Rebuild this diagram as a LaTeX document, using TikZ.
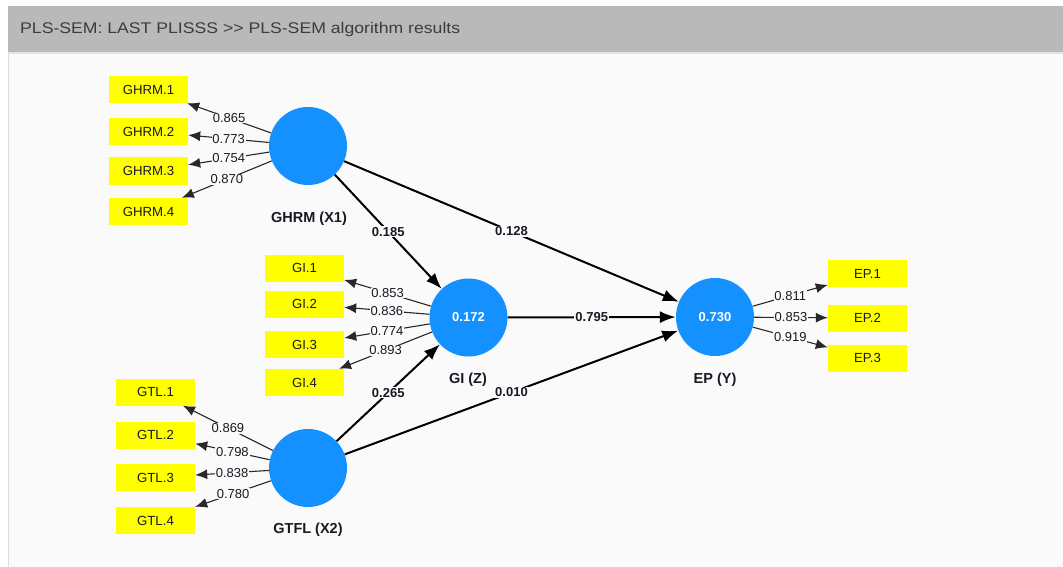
\documentclass[tikz,border=0pt]{standalone}
\usepackage{fontspec}
\setmainfont{Liberation Sans}
\usetikzlibrary{arrows.meta}
\definecolor{lvblue}{RGB}{21,145,255}
\definecolor{indyellow}{RGB}{255,255,0}
\definecolor{panelbg}{RGB}{250,250,250}
\definecolor{headgray}{RGB}{185,185,185}
\definecolor{headline}{RGB}{226,226,226}
\definecolor{bordergray}{RGB}{220,220,220}
\definecolor{headtxt}{RGB}{60,60,60}
\definecolor{txtdark}{RGB}{25,25,35}
\definecolor{loadline}{RGB}{40,40,40}
\tikzset{
  latent/.style={circle, fill=lvblue, minimum size=78pt, inner sep=0pt, text=white,
    font=\fontsize{13}{15}\selectfont\bfseries},
  indic/.style={rectangle, fill=indyellow, minimum width=79pt, minimum height=27pt, inner sep=0pt,
    text=txtdark, font=\fontsize{13.2}{15}\selectfont},
  lvname/.style={inner sep=0pt, text=txtdark, font=\fontsize{14.5}{16}\selectfont\bfseries},
  loadarrow/.style={draw=loadline, line width=1.1pt, -{Latex[length=12pt,width=10pt]}},
  patharrow/.style={draw=black, line width=2pt, -{Latex[length=16pt,width=12pt]}},
  loadlbl/.style={fill=panelbg, inner sep=0.8pt, text=txtdark, font=\fontsize{13}{14}\selectfont},
  pathlbl/.style={fill=panelbg, inner sep=1pt, text=txtdark, font=\fontsize{13}{15}\selectfont\bfseries},
}
\begin{document}
\begin{tikzpicture}[x=1pt,y=-1pt]
\useasboundingbox (0,0) rectangle (1063,567);
\fill[white] (0,0) rectangle (1063,567);
\fill[panelbg] (8,52) rectangle (1063,567);
\fill[headgray] (8,6) rectangle (1063,52);
\fill[headline] (8,52) rectangle (1063,54.5);
\draw[bordergray, line width=1.2pt] (8.6,54) -- (8.6,567);
\node[anchor=base west, inner sep=0pt, text=headtxt] (title) at (20,33.5)
  {\resizebox{440pt}{11.2pt}{PLS-SEM: LAST PLISSS >{}> PLS-SEM algorithm results}};

% latent variables
\node[latent] (ghrm) at (308,146) {};
\node[latent] (gi) at (468.5,317.5) {0.172};
\node[latent] (gtfl) at (308,468) {};
\node[latent] (ep) at (715,317) {0.730};

\node[lvname] (ghrmname) at (309,219) {GHRM (X1)};
\node[lvname] (giname) at (468,380) {GI (Z)};
\node[lvname] (gtflname) at (308,530) {GTFL (X2)};
\node[lvname] (epname) at (715,379.5) {EP (Y)};

% indicators
\node[indic] (g1) at (148.5,89.5) {GHRM.1};
\node[indic] (g2) at (148.5,131.5) {GHRM.2};
\node[indic] (g3) at (148.5,171) {GHRM.3};
\node[indic] (g4) at (148.5,211.5) {GHRM.4};

\node[indic] (i1) at (304.5,268) {GI.1};
\node[indic] (i2) at (304.5,304) {GI.2};
\node[indic] (i3) at (304.5,344.5) {GI.3};
\node[indic] (i4) at (304.5,382.5) {GI.4};

\node[indic] (t1) at (155.5,392) {GTL.1};
\node[indic] (t2) at (155.5,435) {GTL.2};
\node[indic] (t3) at (155.5,477.5) {GTL.3};
\node[indic] (t4) at (155.5,520.5) {GTL.4};

\node[indic] (e1) at (867.5,273.5) {EP.1};
\node[indic] (e2) at (867.5,318) {EP.2};
\node[indic] (e3) at (867.5,358) {EP.3};

% loadings
\draw[loadarrow] (ghrm) -- node[loadlbl] {0.865} (g1);
\draw[loadarrow] (ghrm) -- node[loadlbl] {0.773} (g2);
\draw[loadarrow] (ghrm) -- node[loadlbl] {0.754} (g3);
\draw[loadarrow] (ghrm) -- node[loadlbl] {0.870} (g4);

\draw[loadarrow] (gi) -- node[loadlbl] {0.853} (i1);
\draw[loadarrow] (gi) -- node[loadlbl] {0.836} (i2);
\draw[loadarrow] (gi) -- node[loadlbl] {0.774} (i3);
\draw[loadarrow] (gi) -- node[loadlbl] {0.893} (i4);

\draw[loadarrow] (gtfl) -- node[loadlbl] {0.869} (t1);
\draw[loadarrow] (gtfl) -- node[loadlbl] {0.798} (t2);
\draw[loadarrow] (gtfl) -- node[loadlbl] {0.838} (t3);
\draw[loadarrow] (gtfl) -- node[loadlbl] {0.780} (t4);

\draw[loadarrow] (ep) -- node[loadlbl] {0.811} (e1);
\draw[loadarrow] (ep) -- node[loadlbl] {0.853} (e2);
\draw[loadarrow] (ep) -- node[loadlbl] {0.919} (e3);

% structural paths
\draw[patharrow] (ghrm) -- node[pathlbl] {0.185} (gi);
\draw[patharrow] (ghrm) -- node[pathlbl] {0.128} (ep);
\draw[patharrow] (gi) -- node[pathlbl] {0.795} (ep);
\draw[patharrow] (gtfl) -- node[pathlbl] {0.265} (gi);
\draw[patharrow] (gtfl) -- node[pathlbl] {0.010} (ep);
\end{tikzpicture}
\end{document}
